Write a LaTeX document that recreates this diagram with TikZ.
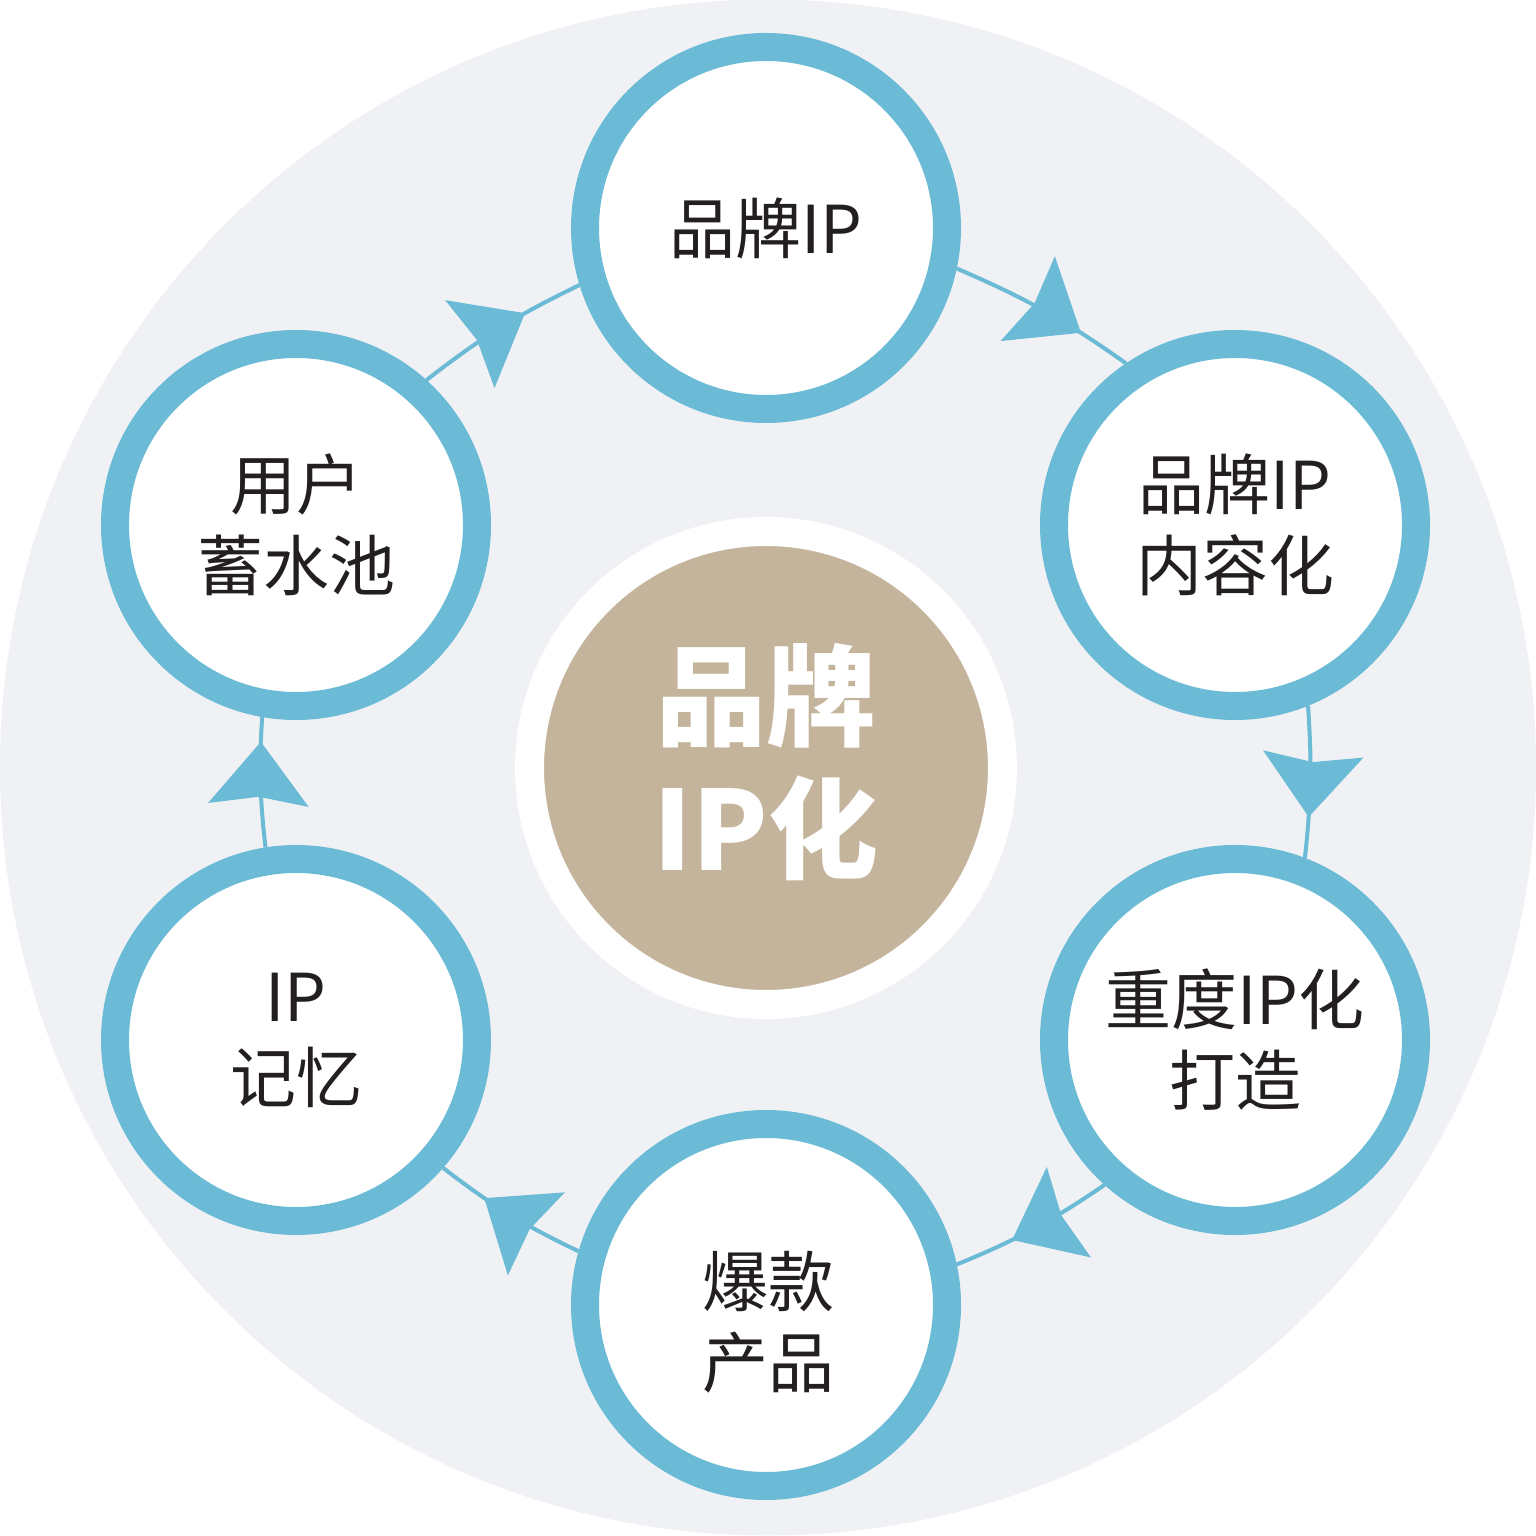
\documentclass[tikz,border=0pt]{standalone}
\usepackage{fontspec}
\newfontfamily\cjk{Noto Sans CJK SC}
\usetikzlibrary{arrows.meta,decorations.markings}
\definecolor{bgc}{HTML}{EFF1F4}
\definecolor{ipblue}{HTML}{6BBAD6}
\definecolor{hubtan}{HTML}{C4B49C}
\definecolor{ink}{HTML}{231F20}
\begin{document}
\begin{tikzpicture}[x=1pt,y=1pt,
  stage/.style={circle, draw=ipblue, line width=28pt, fill=white, minimum size=362pt, inner sep=0pt, align=center, text=ink, font=\cjk\fontsize{66pt}{81pt}\selectfont},
  stagetext/.style={inner sep=0pt, align=center, text=ink, font=\cjk\fontsize{66pt}{81pt}\selectfont},
  hubtext/.style={inner sep=0pt, align=center, text=white, font=\cjk\bfseries\fontsize{110pt}{133pt}\selectfont},
  link/.style={draw=ipblue, color=ipblue, line width=4pt},
  tipat/.style={postaction={decorate, decoration={markings, mark=at position #1 with {\arrow{Stealth[length=63pt,width=100pt,inset=8pt]}}}}}
]
\useasboundingbox (0,0) rectangle (1536,1535);
\fill[bgc] (768,767.5) circle (768);
\node[circle, fill=hubtan, draw=white, line width=29pt, minimum size=473pt, inner sep=0pt] (hub) at (766,767) {};
\node[hubtext] (hublbl) at (766,773) {品牌\\IP化};

\node[stage] (top) at (766,1307) {品牌IP};
\node[stage] (ur) at (1235,1010) {品牌IP\\内容化};
\node[stage] (lr) at (1235,495) {重度IP化\\打造};
\node[stage] (bot) at (766,230) {};
\node[stagetext] (botlbl) at (768,213) {爆款\\产品};
\node[stage] (ll) at (296,495) {IP\\记忆};
\node[stage] (ul) at (296,1010) {用户\\蓄水池};

\draw[link, tipat=0.72] (top.-12) to[bend left=6] (ur.124);
\draw[link, tipat=0.73] (ur.-68) to[bend left=5] (lr.69);
\draw[link, tipat=0.64] (lr.228) to[bend left=6] (bot.12);
\draw[link, tipat=0.68] (bot.164) to[bend left=6] (ll.-41);
\draw[link, tipat=0.81] (ll.99) to[bend left=5] (ul.260);
\draw[link, tipat=0.66] (ul.48) to[bend left=6] (top.197);
\end{tikzpicture}
\end{document}
